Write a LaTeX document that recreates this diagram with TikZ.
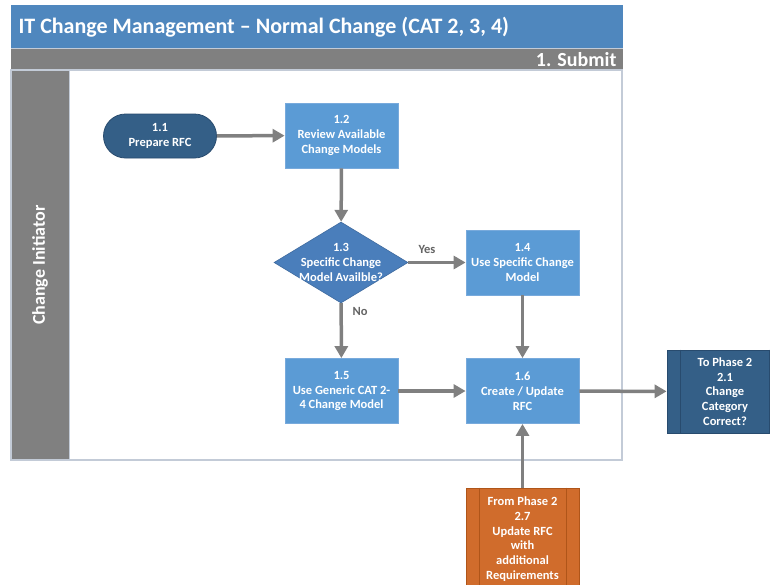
\documentclass[tikz,border=0pt]{standalone}
\usepackage{fontspec}
\setmainfont{Carlito}
\usetikzlibrary{arrows.meta,shapes.geometric}
\definecolor{titleblue}{RGB}{79,135,190}
\definecolor{bargray}{RGB}{128,128,128}
\definecolor{lightstep}{RGB}{91,155,213}
\definecolor{lightedge}{RGB}{120,170,220}
\definecolor{darkstep}{RGB}{52,95,135}
\definecolor{darkedge}{RGB}{40,75,110}
\definecolor{midstep}{RGB}{74,126,187}
\definecolor{orangestep}{RGB}{208,108,44}
\definecolor{orangeedge}{RGB}{175,85,25}
\definecolor{laneedge}{RGB}{195,203,215}
\definecolor{flowgray}{RGB}{128,128,128}
\definecolor{labelgray}{RGB}{100,100,100}
\tikzset{
  steptext/.style={text=white, font=\fontsize{12.5}{14.8}\selectfont\bfseries, align=center},
  stepbox/.style={steptext, rectangle, fill=lightstep, draw=lightedge, line width=0.8pt,
    minimum width=113pt, minimum height=65pt, inner sep=0pt},
  startbox/.style={steptext, rectangle, rounded corners=22pt, fill=darkstep, draw=darkedge,
    line width=0.8pt, minimum width=113pt, minimum height=44pt, inner sep=0pt},
  decbox/.style={diamond, fill=midstep, draw=midstep!85!black, line width=0.6pt,
    minimum width=134pt, minimum height=81pt, inner sep=0pt},
  linkbox/.style={steptext, rectangle, line width=0.8pt, inner sep=0pt},
  flow/.style={draw=flowgray, line width=3.5pt, -{Triangle[length=12pt,width=13pt]}},
  choice/.style={text=labelgray, font=\fontsize{12.5}{14}\selectfont\bfseries}
}
\begin{document}
\begin{tikzpicture}[x=1pt,y=-1pt]
\useasboundingbox (0,0) rectangle (770,584);
\begin{scope}
\clip (0,0) rectangle (770,584);
% swimlane frame
\fill[titleblue] (11,5) rectangle (623,48);
\node[anchor=west, text=white, font=\fontsize{22}{26}\selectfont\bfseries] (title) at (15,27) {IT Change Management -- Normal Change (CAT 2, 3, 4)};
\fill[bargray] (11,48) rectangle (623,70);
\draw[laneedge, line width=1pt] (11,48) -- (623,48);
\node[anchor=east, text=white, font=\fontsize{20}{22}\selectfont\bfseries] (phase) at (620,59.5) {1. Submit};
\fill[white] (69,70) rectangle (622,460);
\fill[bargray] (11,70) rectangle (69,460);
\draw[laneedge, line width=1.2pt] (11,70) rectangle (622,460);
\draw[laneedge, line width=0.8pt] (69,70) -- (69,460);
\node[rotate=90, text=white, font=\fontsize{18}{20}\selectfont\bfseries] (lane) at (40,265) {Change Initiator};

% steps
\node[startbox] (s11) at (160,136) {1.1\\Prepare RFC};
\node[stepbox] (s12) at (341.5,135.5) {1.2\\Review Available\\Change Models};
\node[decbox, label={[steptext]center:1.3\\Specific Change\\Model Availble?}] (s13) at (341,262.5) {};
\node[stepbox] (s14) at (522.5,262.5) {1.4\\Use Specific Change\\Model};
\node[stepbox] (s15) at (341.5,391) {1.5\\Use Generic CAT 2-\\4 Change Model};
\node[stepbox] (s16) at (522.5,391) {1.6\\Create / Update\\RFC};

% off-page links
\node[linkbox, fill=darkstep, draw=darkedge, minimum width=116pt, minimum height=83pt] (toP2) at (725,391.5) {To Phase 2\\2.1\\Change\\Category\\Correct?};
\draw[darkedge, line width=0.8pt] ([xshift=14pt]toP2.north west) -- ([xshift=14pt]toP2.south west)
  ([xshift=-14pt]toP2.north east) -- ([xshift=-14pt]toP2.south east);
\node[linkbox, fill=orangestep, draw=orangeedge, minimum width=113pt, minimum height=102pt] (fromP2) at (522.5,539) {From Phase 2\\2.7\\Update RFC\\with\\additional\\Requirements};
\draw[orangeedge, line width=0.8pt] ([xshift=13.5pt]fromP2.north west) -- ([xshift=13.5pt]fromP2.south west)
  ([xshift=-13.5pt]fromP2.north east) -- ([xshift=-13.5pt]fromP2.south east);

% connectors
\draw[flow] (s11) -- (s12);
\draw[flow] (s12) -- (s13);
\draw[flow] (s13) -- (s14);
\draw[flow] (s13) -- (s15);
\draw[flow] (s14) -- (s16);
\draw[flow] (s15) -- (s16);
\draw[flow] (s16) -- (toP2);
\draw[flow] (fromP2) -- (s16);
\node[choice] (yes) at (427,249) {Yes};
\node[choice] (no) at (360,311) {No};
\end{scope}
\end{tikzpicture}
\end{document}
